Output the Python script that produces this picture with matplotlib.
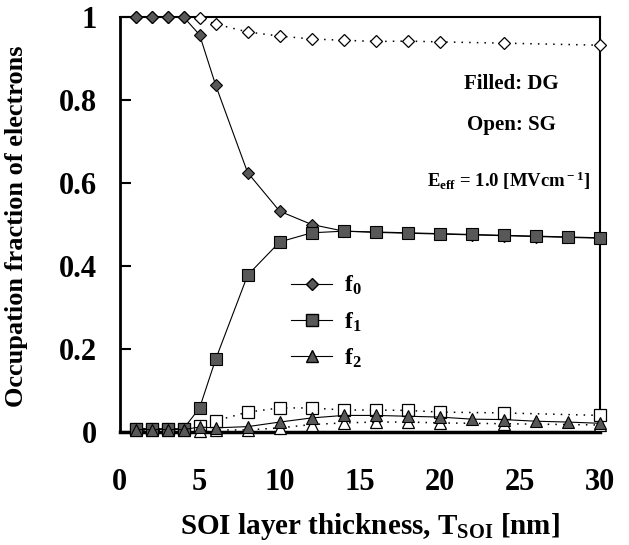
import numpy as np
import matplotlib
matplotlib.use('Agg')
from matplotlib import pyplot as plt
from matplotlib.lines import Line2D

#=================================================
#DATA
#=================================================
# DG (filled markers, solid lines)
t_dg = [1, 2, 3, 4, 5, 6, 8, 10, 12, 14, 16, 18, 20, 22, 24, 26, 28, 30]
f0_dg = [1.0, 1.0, 1.0, 1.0, 0.957, 0.836, 0.625, 0.532, 0.500, 0.484, 0.481,
         0.479, 0.477, 0.475, 0.473, 0.471, 0.469, 0.467]
f1_dg = [0.008, 0.008, 0.008, 0.008, 0.058, 0.175, 0.378, 0.458, 0.480, 0.484,
         0.482, 0.480, 0.478, 0.476, 0.474, 0.472, 0.470, 0.468]
f2_dg = [0.006, 0.006, 0.006, 0.006, 0.012, 0.010, 0.013, 0.024, 0.034, 0.040,
         0.040, 0.038, 0.036, 0.031, 0.030, 0.026, 0.024, 0.021]

# SG (open markers, dotted lines)
t_sg = [1, 2, 3, 4, 5, 6, 8, 10, 12, 14, 16, 18, 20, 24, 30]
f0_sg = [1.0, 1.0, 1.0, 1.0, 0.997, 0.983, 0.964, 0.954, 0.947, 0.944, 0.941,
         0.942, 0.940, 0.937, 0.932]
f1_sg = [0.008, 0.008, 0.008, 0.008, 0.015, 0.027, 0.048, 0.058, 0.058, 0.053,
         0.053, 0.052, 0.048, 0.046, 0.040]
f2_sg = [0.004, 0.004, 0.004, 0.004, 0.003, 0.005, 0.005, 0.010, 0.018, 0.022,
         0.024, 0.024, 0.022, 0.020, 0.017]

xticks = [0, 5, 10, 15, 20, 25, 30]
yticks = [0, 0.2, 0.4, 0.6, 0.8, 1.0]
ytick_labels = ['0', '0.2', '0.4', '0.6', '0.8', '1']

#=================================================
#STYLE
#=================================================
plt.rcParams['font.family'] = ['Liberation Serif', 'DejaVu Serif']
plt.rcParams['font.weight'] = 'bold'
plt.rcParams['mathtext.fontset'] = 'custom'
plt.rcParams['mathtext.rm'] = 'Liberation Serif:bold'
plt.rcParams['mathtext.it'] = 'Liberation Serif:bold'
plt.rcParams['mathtext.bf'] = 'Liberation Serif:bold'

face = '#585858'
ms = 8

#=================================================
#PLOT
#=================================================
fig = plt.figure(figsize=(6.29, 5.45), dpi=100)
ax = fig.add_axes([0.19, 0.2073, 0.764, 0.7615])

dot = (0, (1, 4))
ax.plot(t_sg, f0_sg, ls=dot, color='k', lw=1.1, marker='D', ms=ms - 1.5,
        mfc='white', mec='k', mew=0.9, clip_on=False, zorder=3)
ax.plot(t_sg, f1_sg, ls=dot, color='k', lw=1.1, marker='s', ms=ms,
        mfc='white', mec='k', mew=0.9, clip_on=False, zorder=3)
ax.plot(t_sg, f2_sg, ls=dot, color='k', lw=1.1, marker='^', ms=ms,
        mfc='white', mec='k', mew=0.9, clip_on=False, zorder=3)

ax.plot(t_dg, f0_dg, ls='-', color='k', lw=0.8, marker='D', ms=ms - 1.5,
        mfc=face, mec='k', mew=0.8, clip_on=False, zorder=4)
ax.plot(t_dg, f1_dg, ls='-', color='k', lw=0.8, marker='s', ms=ms,
        mfc=face, mec='k', mew=0.8, clip_on=False, zorder=5)
ax.plot(t_dg, f2_dg, ls='-', color='k', lw=0.8, marker='^', ms=ms,
        mfc=face, mec='k', mew=0.8, clip_on=False, zorder=6)

ax.set_xlim(0, 30)
ax.set_ylim(0, 1)

ax.set_xticks(xticks)
ax.set_xticklabels([str(v) for v in xticks])
ax.set_yticks(yticks)
ax.set_yticklabels(ytick_labels)
ax.tick_params(axis='x', length=0, pad=26, labelsize=22)
ax.tick_params(axis='y', direction='in', length=8, width=1.5, pad=16,
               labelsize=22)

ax.spines['left'].set_linewidth(2.0)
ax.spines['bottom'].set_linewidth(2.5)
ax.spines['top'].set_linewidth(1.5)
ax.spines['right'].set_linewidth(1.5)

# legend (DG symbols)
handles = [
    Line2D([], [], color='k', lw=0.8, marker='D', ms=ms - 1.5, mfc=face, mec='k'),
    Line2D([], [], color='k', lw=0.8, marker='s', ms=ms, mfc=face, mec='k'),
    Line2D([], [], color='k', lw=0.8, marker='^', ms=ms, mfc=face, mec='k'),
]
ax.legend(handles, [r'$\mathrm{f}_0$', r'$\mathrm{f}_1$', r'$\mathrm{f}_2$'],
          loc='center left', bbox_to_anchor=(0.357, 0.265), frameon=False,
          fontsize=17, handlelength=1.75, handletextpad=0.5, labelspacing=0.55,
          borderpad=0, borderaxespad=0)

ax.text(0.815, 0.839, 'Filled: DG', transform=ax.transAxes, ha='center',
        va='center', fontsize=15)
ax.text(0.815, 0.740, 'Open: SG', transform=ax.transAxes, ha='center',
        va='center', fontsize=15)
ax.text(0.81, 0.605, r'E$_{\rm eff}$ = 1.0 [MVcm$^{\rm -1}$]',
        transform=ax.transAxes, ha='center', va='center', fontsize=13.5)

fig.text(17 / 629, 1 - 226 / 545, 'Occupation fraction of electrons',
         rotation=90, ha='center', va='center', fontsize=19)
fig.text(370 / 629, 1 - 527 / 545, r'SOI layer thickness, T$_{\rm SOI}$ [nm]',
         ha='center', va='center', fontsize=21)

fig.savefig('out.png', dpi=100)
